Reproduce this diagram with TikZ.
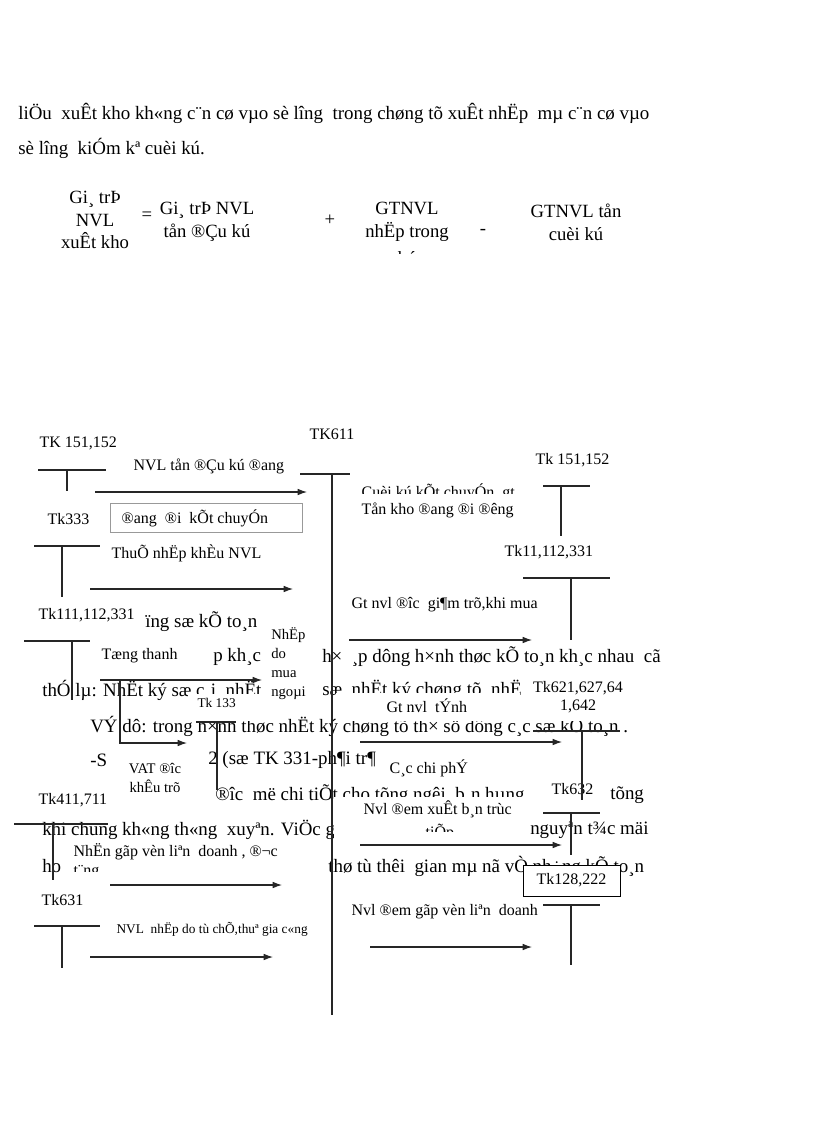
\documentclass[tikz,border=0pt]{standalone}
\usepackage{fontspec}
\setmainfont{Liberation Serif}
\usetikzlibrary{arrows.meta}
\begin{document}
\begin{tikzpicture}[x=0.75pt,y=-0.75pt,
  bg/.style={font=\fontsize{14.2}{16}\selectfont, inner sep=0pt, anchor=west},
  eq/.style={font=\fontsize{14}{17}\selectfont, inner sep=0pt, align=center},
  lab/.style={font=\fontsize{12}{14}\selectfont, inner sep=1pt, anchor=west, fill=white},
  labs/.style={font=\fontsize{10}{12}\selectfont, inner sep=1pt, anchor=west, fill=white},
  ln/.style={line width=0.8pt, black!85},
  arr/.style={line width=0.8pt, black!85, -{Latex[length=7pt,width=5pt]}},
  cover/.style={fill=white, draw=none}]
\useasboundingbox (0,0) rectangle (816,1123);
\fill[white] (0,0) rectangle (816,1123);

% ---------- top paragraph ----------
\node[bg] (p1) at (18,113) {liÖu~ xuÊt kho kh«ng c¨n cø vµo sè lîng~ trong chøng tõ xuÊt nhËp~ mµ c¨n cø vµo};
\node[bg] (p2) at (18,148) {sè lîng~ kiÓm kª cuèi kú.};

% ---------- equation ----------
\node[eq] (e1) at (95,220) {Gi¸ trÞ\\NVL\\xuÊt kho};
\node[eq] (e2) at (147,216) {=};
\node[eq] (e3) at (207,222) {Gi¸ trÞ NVL\\tån ®Çu kú};
\node[eq] (e4) at (330,220) {+};
\node[eq] (e5) at (407,222) {GTNVL\\nhËp trong};
\begin{scope}
  \clip (380,247) rectangle (440,253);
  \node[eq] (e5b) at (407,258) {kú};
\end{scope}
\node[eq] (e6) at (483,232) {-};
\node[eq] (e7) at (576,222) {GTNVL tån\\cuèi kú};

% ---------- background paragraph (behind the diagram) ----------
\node[bg] (b1) at (145,622) {ïng sæ kÕ to¸n};
\node[bg] (b2a) at (213,657) {p kh¸c};
\node[bg] (b2b) at (322,657) {h×~ ¸p dông h×nh thøc kÕ to¸n kh¸c nhau~ cã};
\node[bg] (b3a) at (42,690) {thÓ lµ: NhËt ký sæ c¸i, nhËt};
\node[bg] (b3b) at (322,690) {sæ, nhËt ký chøng tõ, nhË};
\node[bg] (b4) at (90,726) {VÝ dô: trong h×nh thøc nhËt ký chøng tõ th× sö dông c¸c sæ kÕ to¸n .};
\node[bg] (b5a) at (90,760) {-S};
\node[bg] (b5b) at (208,760) {2 (sæ TK 331-ph¶i tr¶};
\node[bg] (b6a) at (215,795) {®îc~ më chi tiÕt cho tõng ng­êi~ b¸n hµng};
\node[bg] (b6b) at (610,795) {tõng};
\node[bg] (b7a) at (42,830) {khi chung kh«ng th«ng~ xuyªn. ViÖc g};
\node[bg] (b7b) at (530,830) {nguyªn t¾c mäi};
\node[bg] (b8a) at (42,866) {ho};
\node[bg] (b8b) at (328,866) {thø tù thêi~ gian mµ nã vÒ nh÷ng kÕ to¸n};

% ---------- covering text boxes ----------
\path[cover] (20,604) rectangle (142,630);
\path[cover] (95,645) rectangle (190,669);
\path[cover] (268,625) rectangle (312,706);
\path[cover] (188,694) rectangle (268,721);
\path[cover] (336,693) rectangle (520,721);
\path[cover] (520,713) rectangle (622,721);
\path[cover] (110,746) rectangle (205,800);
\path[cover] (334,797) rectangle (528,848);
\path[cover] (68,843) rectangle (326,872);

% ---------- labels ----------
\node[lab] (l151a) at (38,443) {TK 151,152};
\node[lab] (l611) at (308,434) {TK611};
\node[lab] (t1) at (132,466) {NVL tån ®Çu kú ®ang};
\node[lab] (l151b) at (534,460) {Tk 151,152};
\begin{scope}
  \clip (355,480) rectangle (540,493);
  \node[lab,fill=none] (t2a) at (360,492) {Cuèi kú kÕt chuyÓn~ gt};
\end{scope}
\node[lab] (t2b) at (360,510) {Tån kho ®ang ®i ®êng};
\node[draw=black!40, line width=0.6pt, minimum width=192*0.75pt, minimum height=29*0.75pt, inner sep=0pt] (box1) at (206,517.5) {};
\node[lab,fill=none] (t3) at (120,518) {®ang~ ®i~ kÕt chuyÓn};
\node[lab] (l333) at (46,519) {Tk333};
\node[lab] (t4) at (110,553) {ThuÕ nhËp khÈu NVL};
\node[lab] (l11) at (503,552) {Tk11,112,331};
\node[lab] (l111) at (37,615) {Tk111,112,331};
\node[lab] (t5) at (350,605) {Gt nvl ®îc~ gi¶m trõ,khi mua};
\node[lab] (t6) at (100,656) {Tæng thanh};
\node[font=\fontsize{11}{14.4}\selectfont, inner sep=0pt, align=left, anchor=north west] (t7) at (271,627) {NhËp\\do\\mua\\ngoµi};
\node[labs] (l133) at (196,703) {Tk 133};
\node[font=\fontsize{12}{13.5}\selectfont, inner sep=1pt, align=center, fill=white] (l621) at (578,697) {Tk621,627,64\\1,642};
\node[lab] (t8) at (385,706) {Gt nvl~ tÝnh};
\node[font=\fontsize{11}{14.5}\selectfont, inner sep=0pt, align=center] (t9) at (155,778) {VAT ®îc\\khÊu trõ};
\node[lab] (t10) at (388,768) {C¸c chi phÝ};
\node[lab] (l411) at (37,800) {Tk411,711};
\node[lab] (l632) at (550,789) {Tk632};
\node[lab,fill=none] (t11) at (362,809) {Nvl ®em xuÊt b¸n trùc};
\begin{scope}
  \clip (400,822) rectangle (480,831);
  \node[lab,fill=none] (t11b) at (424,832) {tiÕp};
\end{scope}
\node[lab,fill=none] (t12) at (72,852) {NhËn gãp vèn liªn~ doanh , ®¬c};
\begin{scope}
  \clip (68,862) rectangle (200,871);
  \node[lab,fill=none] (t12b) at (72,872) {t¨ng};
\end{scope}
\node[draw=black, line width=0.7pt, fill=white, minimum width=97*0.75pt, minimum height=31*0.75pt, inner sep=0pt, font=\fontsize{12}{14}\selectfont] (l128) at (571.5,880.5) {Tk128,222};
\node[lab] (l631) at (40,900) {Tk631};
\node[labs] (t13) at (115,929) {NVL~ nhËp do tù chÕ,thuª gia c«ng};
\node[lab] (t14) at (350,912) {Nvl ®em gãp vèn liªn~ doanh};

% ---------- coordinates ----------
\coordinate (a1s) at (95,492);   \coordinate (a1e) at (307,492);
\coordinate (a2s) at (90,589);   \coordinate (a2e) at (293,589);
\coordinate (a3s) at (349,640);  \coordinate (a3e) at (532,640);
\coordinate (a4s) at (100,680);  \coordinate (a4e) at (262,680);
\coordinate (a5s) at (120,680);  \coordinate (a5c) at (120,743); \coordinate (a5e) at (187,743);
\coordinate (a6s) at (360,742);  \coordinate (a6e) at (562,742);
\coordinate (a7s) at (110,885);  \coordinate (a7e) at (282,885);
\coordinate (a8s) at (360,845);  \coordinate (a8e) at (562,845);
\coordinate (a9s) at (370,947);  \coordinate (a9e) at (532,947);
\coordinate (a10s) at (90,957);  \coordinate (a10e) at (273,957);

% ---------- T-accounts ----------
\draw[ln] (38,470) -- (106,470) (67,470) -- (67,491);
\draw[ln] (300,474) -- (350,474) (332,474) -- (332,1015);
\draw[ln] (34,546) -- (100,546) (62,546) -- (62,597);
\draw[ln] (543,486) -- (590,486) (561,486) -- (561,536);
\draw[ln] (523,578) -- (610,578) (571,578) -- (571,640);
\draw[ln] (24,641) -- (90,641) (72,641) -- (72,700);
\draw[ln] (196,722) -- (236,722) (217,722) -- (217,790);
\draw[ln] (533,731) -- (620,731) (582,731) -- (582,800);
\draw[ln] (14,824) -- (108,824) (53,824) -- (53,880);
\draw[ln] (543,813) -- (600,813) (571,813) -- (571,855);
\draw[ln] (543,905) -- (600,905) (571,905) -- (571,965);
\draw[ln] (34,926) -- (100,926) (62,926) -- (62,968);

% ---------- arrows ----------
\draw[arr] (a1s) -- (a1e);
\draw[arr] (a2s) -- (a2e);
\draw[arr] (a3s) -- (a3e);
\draw[arr] (a4s) -- (a4e);
\draw[arr] (a5s) -- (a5c) -- (a5e);
\draw[arr] (a6s) -- (a6e);
\draw[arr] (a7s) -- (a7e);
\draw[arr] (a8s) -- (a8e);
\draw[arr] (a9s) -- (a9e);
\draw[arr] (a10s) -- (a10e);
\end{tikzpicture}
\end{document}
